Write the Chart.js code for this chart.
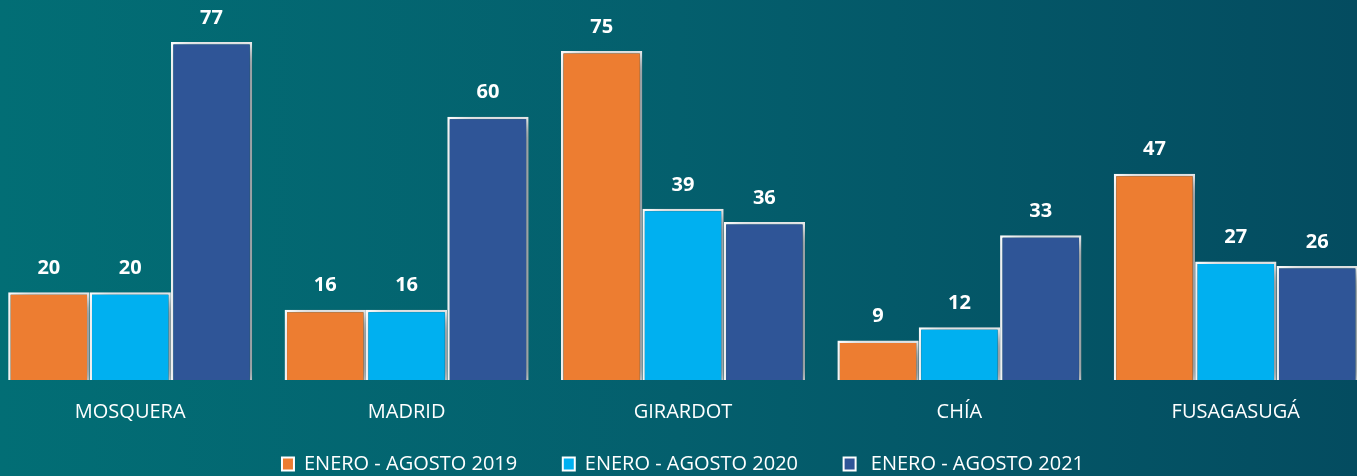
<!DOCTYPE html>
<html>
<head>
<meta charset="utf-8">
<script src="https://cdn.jsdelivr.net/npm/chart.js@4"></script>
<style>
    html, body { margin: 0; padding: 0; }
    body {
        width: 1357px;
        height: 476px;
        overflow: hidden;
        background: linear-gradient(to right, #026e75 0%, #045f6d 50%, #044c60 100%);
    }
    #wrap { position: relative; width: 1357px; height: 476px; overflow: hidden; }
    #municipiosChart { position: absolute; left: -8px; top: 0; }
</style>
</head>
<body>
<div id="wrap">
    <canvas id="municipiosChart" width="1382" height="484"></canvas>
</div>
<script>
let categories = ["MOSQUERA", "MADRID", "GIRARDOT", "CHÍA", "FUSAGASUGÁ"];
let seriesNames = ["ENERO - AGOSTO 2019", "ENERO - AGOSTO 2020", "ENERO - AGOSTO 2021"];
let values2019 = [20, 16, 75, 9, 47];
let values2020 = [20, 16, 39, 12, 27];
let values2021 = [77, 60, 36, 33, 26];
let barColors = ["#ED7D31", "#00B0F0", "#2F5597"];

// labels on top of each bar, no datalabels plugin here
let valueLabels = {
    id: 'valueLabels',
    afterDatasetsDraw: function (chart) {
        let ctx = chart.ctx;
        ctx.save();
        ctx.fillStyle = "white";
        ctx.font = "bold 20px 'Open Sans'";
        ctx.textAlign = "center";
        ctx.textBaseline = "middle";
        chart.data.datasets.forEach(function (ds, i) {
            chart.getDatasetMeta(i).data.forEach(function (bar, j) {
                ctx.fillText(ds.data[j], bar.x, bar.y - 24);
            });
        });
        ctx.restore();
    }
};

// soft shadow behind the bars
let barShadow = {
    id: 'barShadow',
    beforeDatasetsDraw: function (chart) {
        let ctx = chart.ctx;
        ctx.save();
        ctx.shadowColor = "rgba(0, 20, 30, 0.5)";
        ctx.shadowBlur = 16;
        ctx.shadowOffsetX = 8;
        ctx.shadowOffsetY = 4;
    },
    afterDatasetsDraw: function (chart) {
        chart.ctx.restore();
    }
};

let datasets = [values2019, values2020, values2021].map(function (vals, i) {
    return {
        label: seriesNames[i],
        data: vals,
        backgroundColor: barColors[i],
        borderColor: "white",
        borderWidth: 2.5,
        categoryPercentage: 0.883,
        barPercentage: 1.0
    };
});

new Chart("municipiosChart", {
    type: "bar",
    data: {
        labels: categories,
        datasets: datasets
    },
    plugins: [barShadow, valueLabels],
    options: {
        responsive: false,
        animation: false,
        maintainAspectRatio: false,
        layout: { padding: 0 },
        scales: {
            x: {
                grid: { display: false, drawTicks: false },
                border: { display: false },
                ticks: {
                    color: "white",
                    font: { family: "'Open Sans'", size: 20 },
                    padding: 20,
                    maxRotation: 0,
                    autoSkip: false
                },
                afterFit: function (scale) {
                    scale.height = 44;
                }
            },
            y: {
                display: false,
                min: 0,
                max: 86.6
            }
        },
        plugins: {
            legend: {
                position: "bottom",
                labels: {
                    color: "white",
                    font: { family: "'Open Sans'", size: 20 },
                    boxWidth: 12,
                    boxHeight: 13,
                    padding: 30,
                    generateLabels: function (chart) {
                        return chart.data.datasets.map(function (ds, i) {
                            // spacing like the original legend
                            let txt = i < 2 ? ds.label + "   " : " " + ds.label;
                            return {
                                text: txt,
                                fillStyle: ds.backgroundColor,
                                strokeStyle: "white",
                                lineWidth: 2,
                                fontColor: "white",
                                datasetIndex: i
                            };
                        });
                    }
                }
            },
            tooltip: { enabled: false }
        }
    }
});
</script>
</body>
</html>
